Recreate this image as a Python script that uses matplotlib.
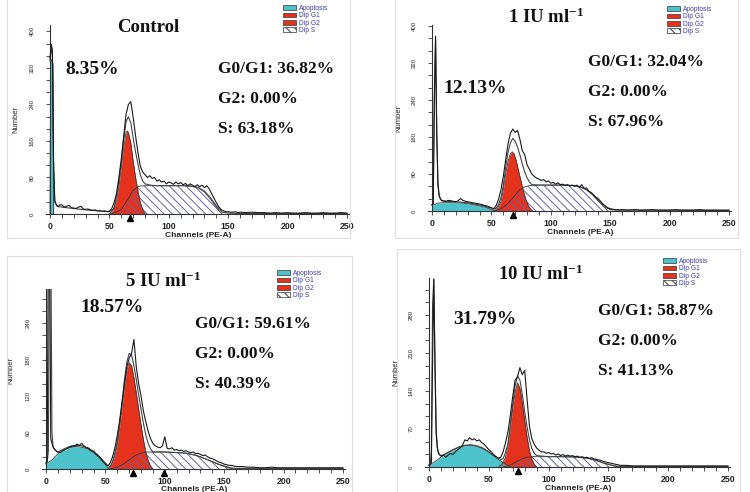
import matplotlib
matplotlib.use("Agg")
import matplotlib.pyplot as plt
import matplotlib.transforms as mtransforms
from matplotlib.patches import Patch, Rectangle
from matplotlib.ticker import MultipleLocator, AutoMinorLocator

plt.rcParams.update({
    "font.family": "Liberation Sans",
    "mathtext.fontset": "custom",
    "mathtext.rm": "Liberation Serif:bold",
    "mathtext.bf": "Liberation Serif:bold",
    "mathtext.default": "bf",
    "hatch.linewidth": 0.7,
})

# Colors
red = "#e5321d"
cyan = "#4cc3cb"
hatch_color = "#6262a6"
line_color = "#1a1a1a"
legend_text = "#3a3aa8"

# =============================
# Data
# =============================

# channel grid of the raw histograms
channels = [0, 1, 2, 3, 4, 5, 6, 7, 8] + list(range(10, 162, 2)) + list(range(165, 255, 5))

hist_ctrl = ([340, 372, 360, 120, 30, 22, 18, 16, 20]
             + [20, 15, 17, 19, 14, 13, 12, 15, 17, 11, 10, 11, 9, 8, 9, 7, 7, 6, 7, 5, 6]
             + [12, 25, 45, 80, 120, 170, 218, 240, 246, 212, 172, 135, 105, 92, 86, 80, 84, 78, 80, 72, 75, 70, 72, 66, 70]
             + [68, 65, 70, 66, 69, 64, 67, 62, 66, 63, 60, 64, 60, 63, 58, 62, 55, 45, 35, 25, 16, 10, 7, 5, 5, 4, 4, 5, 3, 4]
             + [3, 4, 3, 3, 2, 3, 2, 3, 2, 2, 3, 2, 2, 3, 2, 2, 3, 2])
hist_1iu = ([14, 15, 250, 378, 170, 60, 35, 26, 23]
            + [22, 21, 23, 22, 21, 20, 22, 27, 23, 21, 20, 19, 18, 17, 16, 15, 14, 12, 11, 9, 7]
            + [5, 12, 25, 45, 75, 110, 145, 168, 177, 170, 174, 155, 130, 122, 100, 90, 80, 75, 71, 69, 66, 68, 63, 65, 60]
            + [62, 58, 61, 57, 58, 55, 57, 54, 56, 53, 56, 51, 57, 49, 50, 43, 40, 35, 30, 26, 21, 15, 11, 7, 5, 4, 3, 3, 2, 3]
            + [2, 3, 2, 2, 3, 2, 2, 2, 3, 2, 2, 2, 3, 2, 2, 2, 2, 2])
hist_5iu = ([10, 14, 400, 400, 50, 42, 36, 33, 31]
            + [28, 27, 30, 32, 34, 36, 38, 37, 41, 39, 42, 38, 35, 34, 30, 29, 25, 22, 18, 12, 8]
            + [5, 10, 20, 35, 55, 80, 110, 140, 168, 182, 190, 213, 168, 140, 120, 95, 78, 62, 50, 42, 38, 36, 35, 38, 53]
            + [34, 33, 35, 31, 32, 30, 31, 29, 30, 28, 27, 28, 25, 26, 24, 22, 23, 20, 18, 17, 15, 13, 11, 10, 8, 7, 6, 6, 5, 4]
            + [4, 3, 3, 2, 2, 3, 2, 2, 2, 2, 2, 2, 2, 2, 2, 2, 2, 2])
hist_10iu = ([3, 4, 8, 200, 346, 180, 60, 35, 26]
             + [20, 22, 18, 22, 25, 23, 28, 32, 35, 40, 50, 48, 54, 50, 52, 48, 50, 45, 42, 37, 32]
             + [28, 23, 19, 16, 18, 28, 45, 65, 95, 130, 160, 166, 183, 170, 178, 125, 75, 52, 42, 35, 31, 28, 28, 25, 27]
             + [24, 25, 22, 24, 21, 23, 20, 22, 20, 21, 19, 20, 18, 19, 17, 18, 16, 17, 15, 14, 13, 12, 10, 9, 8, 7, 6, 5, 4, 3]
             + [3, 2, 2, 2, 2, 2, 2, 2, 2, 2, 2, 2, 2, 2, 2, 2, 2, 2])

# model fit (smooth envelope)
fit_ctrl_ch = [0, 1, 2, 3, 4, 6, 10, 20, 30, 40, 50, 54, 56, 58, 60, 62, 64, 66, 68, 70, 72, 74, 76, 78, 80,
               85, 90, 100, 110, 120, 125, 130, 135, 140, 145, 150, 160, 250]
fit_ctrl = [335, 362, 350, 100, 26, 17, 15, 12, 9, 7, 5, 12, 40, 72, 114, 161, 202, 213, 200, 167, 136, 110, 86, 72, 66,
            63, 62, 62, 62, 61, 58, 50, 36, 18, 4, 2, 1, 1]
fit_1iu_ch = [0, 1, 2, 3, 4, 5, 6, 8, 10, 20, 30, 40, 45, 50, 52, 54, 56, 58, 60, 62, 64, 66, 68, 70, 72, 74, 76, 78,
              80, 82, 84, 90, 100, 110, 120, 125, 130, 135, 140, 145, 150, 155, 250]
fit_1iu = [14, 16, 240, 370, 160, 55, 32, 22, 21, 20, 18, 13, 10, 6, 4, 6, 14, 28, 55, 94, 127, 147, 157, 151, 138, 121,
           102, 85, 72, 63, 57, 56, 56, 56, 55, 52, 46, 36, 22, 9, 3, 2, 1]
fit_5iu_ch = [0, 1, 2, 3, 4, 5, 6, 8, 10, 15, 20, 25, 30, 35, 40, 45, 50, 52, 54, 56, 58, 60, 62, 64, 66, 68, 70, 72,
              74, 76, 78, 80, 82, 84, 86, 88, 90, 95, 100, 110, 118, 125, 130, 135, 140, 145, 150, 155, 160, 250]
fit_5iu = [9, 11, 30, 400, 400, 60, 36, 30, 28, 33, 37, 39, 38, 35, 29, 20, 10, 6, 4, 12, 26, 45, 74, 108, 146, 175,
           190, 188, 170, 147, 122, 98, 75, 56, 42, 33, 28, 28, 28, 27, 26, 23, 20, 16, 12, 8, 5, 2, 1, 1]
fit_10iu_ch = [0, 1, 2, 3, 4, 5, 6, 7, 8, 10, 15, 20, 25, 30, 35, 40, 45, 50, 55, 60, 62, 64, 66, 68, 70, 72, 74, 76,
               78, 80, 82, 84, 86, 88, 90, 100, 110, 120, 130, 135, 140, 145, 150, 155, 160, 250]
fit_10iu = [4, 5, 30, 300, 346, 200, 70, 35, 24, 20, 26, 32, 37, 40, 41, 39, 35, 28, 20, 14, 15, 27, 43, 78, 116, 149,
            168, 160, 134, 102, 74, 50, 34, 25, 21, 19, 19, 18.5, 17, 15, 12, 8, 5, 2, 1, 1]

# Dip G1 component
g1_ctrl_ch = [50, 53, 56, 58, 60, 62, 64, 65, 66, 68, 70, 72, 74, 76, 78, 80]
g1_ctrl = [0, 8, 30, 60, 100, 145, 178, 182, 178, 155, 115, 80, 50, 25, 10, 0]
g1_1iu_ch = [52, 55, 58, 60, 62, 64, 66, 67.5, 69, 71, 73, 75, 77, 79, 81, 83, 85]
g1_1iu = [0, 5, 20, 45, 80, 108, 124, 128, 124, 108, 85, 64, 42, 25, 12, 4, 0]
g1_5iu_ch = [52, 55, 58, 60, 62, 64, 66, 68, 70, 72, 74, 76, 78, 80, 82, 84, 86, 88, 90]
g1_5iu = [0, 6, 22, 40, 68, 100, 135, 162, 175, 170, 150, 125, 98, 72, 48, 28, 14, 5, 0]
g1_10iu_ch = [58, 61, 64, 66, 68, 70, 72, 74, 76, 78, 80, 82, 84, 86, 88, 90]
g1_10iu = [0, 5, 18, 38, 72, 108, 138, 155, 145, 118, 85, 55, 30, 14, 5, 0]

# Dip S component
s_ctrl_ch = [50, 55, 60, 65, 70, 75, 80, 115, 120, 125, 130, 135, 140, 143, 145]
s_ctrl = [0, 3, 10, 30, 52, 61, 62, 62, 60, 57, 48, 33, 15, 5, 0]
s_1iu_ch = [52, 58, 62, 66, 70, 74, 78, 82, 90, 100, 110, 120, 125, 130, 135, 140, 145, 148]
s_1iu = [0, 5, 12, 22, 35, 46, 52, 55, 56, 56, 56, 55, 52, 46, 36, 22, 8, 0]
s_5iu_ch = [54, 60, 65, 70, 75, 80, 85, 90, 100, 110, 118, 125, 130, 135, 140, 145, 150, 155, 158]
s_5iu = [0, 3, 8, 15, 22, 26, 28, 28, 28, 27, 26, 23, 20, 16, 12, 8, 4, 1, 0]
s_10iu_ch = [62, 66, 70, 74, 78, 82, 86, 100, 110, 120, 130, 135, 140, 145, 150, 155, 158]
s_10iu = [0, 2, 6, 11, 15, 18, 19, 19, 19, 18.5, 17, 15, 12, 8, 5, 2, 0]

# Apoptosis component
ap_ctrl_ch = [0, 0.5, 2.5, 3]
ap_ctrl = [0, 340, 330, 0]
ap_1iu_ch = [0, 5, 10, 20, 30, 40, 45, 50, 53]
ap_1iu = [12, 17, 18, 18, 16, 11, 8, 3, 0]
ap_5iu_ch = [0, 5, 10, 15, 20, 25, 30, 35, 40, 45, 50, 53]
ap_5iu = [8, 15, 25, 31, 35, 37, 36, 33, 27, 18, 8, 0]
ap_10iu_ch = [0, 5, 10, 15, 20, 25, 30, 35, 40, 45, 50, 55, 60, 65, 68]
ap_10iu = [3, 10, 18, 25, 31, 36, 39, 40, 38, 34, 27, 19, 11, 4, 0]

# peak markers
marks_ctrl = [67.5]
marks_1iu = [68.5]
marks_5iu = [73, 99]
marks_10iu = [74.5]

# texts
titles = ["Control", r"1 IU ml$^{-1}$", r"5 IU ml$^{-1}$", r"10 IU ml$^{-1}$"]
apoptosis_pct = ["8.35%", "12.13%", "18.57%", "31.79%"]
g1_pct = ["36.82%", "32.04%", "59.61%", "58.87%"]
g2_pct = ["0.00%", "0.00%", "0.00%", "0.00%"]
s_pct = ["63.18%", "67.96%", "40.39%", "41.13%"]
y_max = [414, 402, 296, 348]
y_step = [80, 80, 60, 70]

# =============================
# Layout (pixel positions)
# =============================
W, H = 750, 492
XL = (-3, 252)
# x pixel of channel 0 and 250, y pixel of 0 and of y_max
axes_px = [(50, 347, 214, 25), (432, 729, 211, 25), (46, 343, 469, 289), (429, 728, 467, 278)]
frames_px = [(7, -5, 350, 238), (395, -5, 738, 238), (7, 256, 352, 497), (397, 249, 740, 497)]
legend_px = [(283, 5), (667, 6), (277, 270), (663, 258)]
title_px = [(116.7, 31.7), (508.3, 22.7), (125, 286.7), (498.3, 280)]
pct_px = [(65, 74), (443.3, 92.7), (80, 311.7), (453.3, 323.7)]
stats_px = [(218.3, 72.7, 30), (587.7, 65.7, 30), (195, 328.3, 30), (597.7, 315, 30)]
ylabel_x = [-0.09, -0.087, -0.091, -0.084]
ylabel_y = [0.5, 0.5, 0.55, 0.5]

panels = [
    (hist_ctrl, fit_ctrl_ch, fit_ctrl, g1_ctrl_ch, g1_ctrl, s_ctrl_ch, s_ctrl, ap_ctrl_ch, ap_ctrl, marks_ctrl),
    (hist_1iu, fit_1iu_ch, fit_1iu, g1_1iu_ch, g1_1iu, s_1iu_ch, s_1iu, ap_1iu_ch, ap_1iu, marks_1iu),
    (hist_5iu, fit_5iu_ch, fit_5iu, g1_5iu_ch, g1_5iu, s_5iu_ch, s_5iu, ap_5iu_ch, ap_5iu, marks_5iu),
    (hist_10iu, fit_10iu_ch, fit_10iu, g1_10iu_ch, g1_10iu, s_10iu_ch, s_10iu, ap_10iu_ch, ap_10iu, marks_10iu),
]


def fig_xy(x, y):
    return x / W, 1 - y / H


fig = plt.figure(figsize=(W / 100, H / 100), dpi=100)

for i, (hist, fch, fit, gch, g1, sch, s, ach, ap, marks) in enumerate(panels):
    x0, x250, yb, yt = axes_px[i]
    sc = (x250 - x0) / 250
    left = x0 + XL[0] * sc
    right = x0 + XL[1] * sc
    ax = fig.add_axes([left / W, 1 - yb / H, (right - left) / W, (yb - yt) / H])
    ax.patch.set_alpha(0)

    # components
    ax.fill_between(gch, g1, color=red, lw=0, zorder=2)
    ax.fill_between(ach, ap, color=cyan, lw=0, zorder=2.1)
    ax.fill_between(gch, g1, color=red, alpha=0.45, lw=0, zorder=2.2)
    ax.fill_between(sch, s, facecolor="none", edgecolor=hatch_color, hatch="\\\\\\\\", lw=0, zorder=2.3)
    ax.plot(gch, g1, color="#3a3a3a", lw=0.6, zorder=3)
    ax.plot(sch, s, color="#3a3a3a", lw=0.6, zorder=3)
    ax.plot(ach, ap, color="#3a3a3a", lw=0.6, zorder=3)

    # fit and raw histogram
    ax.plot(fch, fit, color="#444444", lw=0.8, zorder=4)
    ax.plot(channels, hist, color=line_color, lw=0.8, zorder=5)

    trans = mtransforms.blended_transform_factory(ax.transData, ax.transAxes)
    ax.plot(marks, [-0.022] * len(marks), marker="^", ms=4.8, color="black", ls="none",
            transform=trans, clip_on=False, zorder=6)

    ax.set_xlim(*XL)
    ax.set_ylim(0, y_max[i])
    ax.spines[["top", "right"]].set_visible(False)
    ax.spines["left"].set_position(("data", 0))
    for sp in ax.spines.values():
        sp.set_color("#333333")
        sp.set_linewidth(0.8)
    ax.xaxis.set_major_locator(MultipleLocator(50))
    ax.xaxis.set_minor_locator(MultipleLocator(10))
    ax.yaxis.set_major_locator(MultipleLocator(y_step[i]))
    ax.yaxis.set_minor_locator(AutoMinorLocator(3))
    ax.tick_params(axis="x", which="both", direction="out", length=3, width=0.6,
                   labelsize=6.3, pad=3, colors="#333333", labelcolor="#222222")
    ax.tick_params(axis="y", which="both", direction="out", length=3, width=0.6,
                   labelsize=4.3, pad=8, labelrotation=90, colors="#333333", labelcolor="#222222")
    for lab in ax.get_xticklabels():
        lab.set_fontweight("bold")
    for lab in ax.get_yticklabels():
        lab.set_verticalalignment("center")

    ax.set_xlabel("Channels (PE-A)", fontsize=6, fontweight="bold", color="#222222")
    ax.xaxis.set_label_coords(0.5, -0.095)
    ax.set_ylabel("Number", fontsize=5.5, color="#222222")
    ax.yaxis.set_label_coords(ylabel_x[i], ylabel_y[i])

    # frame
    fx0, fy0, fx1, fy1 = frames_px[i]
    fig.add_artist(Rectangle(fig_xy(fx0, fy1), (fx1 - fx0) / W, (fy1 - fy0) / H,
                             transform=fig.transFigure, fill=False, ec="#dddddd", lw=0.8))

    # legend
    handles = [Patch(fc=cyan, ec="#333333", lw=0.5, label="Apoptosis"),
               Patch(fc=red, ec="#333333", lw=0.5, label="Dip G1"),
               Patch(fc=red, ec="#333333", lw=0.5, label="Dip G2"),
               Patch(fc="white", ec="#333333", lw=0.5, hatch="\\\\\\\\", label="Dip S")]
    fig.legend(handles=handles, loc="upper left", bbox_to_anchor=fig_xy(*legend_px[i]),
               frameon=False, fontsize=4.8, handlelength=1.9, handleheight=0.75,
               labelspacing=0.05, handletextpad=0.5, borderpad=0, borderaxespad=0,
               labelcolor=legend_text)

    # big texts
    serif = dict(family="Liberation Serif", weight="bold", ha="left", va="baseline", color="#111111")
    fig.text(*fig_xy(*title_px[i]), titles[i], fontsize=13.5, **serif)
    fig.text(*fig_xy(*pct_px[i]), apoptosis_pct[i], fontsize=14, **serif)
    sx, sy, dy = stats_px[i]
    fig.text(*fig_xy(sx, sy), "G0/G1: " + g1_pct[i], fontsize=12.5, **serif)
    fig.text(*fig_xy(sx, sy + dy), "G2: " + g2_pct[i], fontsize=12.5, **serif)
    fig.text(*fig_xy(sx, sy + 2 * dy), "S: " + s_pct[i], fontsize=12.5, **serif)

fig.savefig("out.png", dpi=100)
